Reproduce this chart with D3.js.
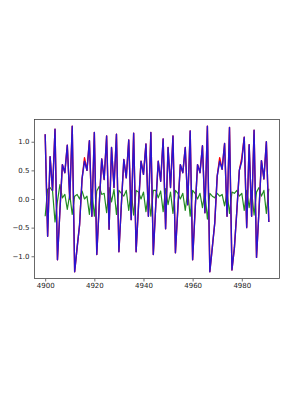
<!DOCTYPE html>
<html>
<head>
<meta charset="utf-8">
<script src="https://cdn.jsdelivr.net/npm/d3@7"></script>
<style>
  body { margin: 0; background: #fff; }
  svg { display: block; }
  .tick text { font-family: "DejaVu Sans", sans-serif; font-size: 7px; fill: #222; }
</style>
</head>
<body>
<div class="vis-lines"></div>
<script>
// first x value, each point is one step after the previous one
const xStart = 4900;

// actual series (red), mostly hidden under the prediction
const actual = [
  1.13, -0.65, 0.74, 0.15, 1.22, -1.06, -0.2, 0.6, 0.46, 0.94,
  0.0, 1.27, -1.27, -0.85, -0.45, 0.35, 0.72, 0.5, 1.02, -0.3,
  1.16, -0.97, -0.1, 0.7, 0.34, 1.1, -0.53, 0.9, 0.2, 1.13,
  -0.92, -0.1, 0.69, 0.37, 1.03, -0.36, 1.15, -0.92, -0.1, 0.66,
  0.43, 0.96, -0.3, 1.16, -0.97, -0.1, 0.66, 0.31, 1.05, -0.52,
  0.9, 0.2, 1.1, -0.94, -0.15, 0.6, 0.46, 0.9, -0.1, 1.19,
  -1.06, -0.2, 0.6, 0.46, 0.93, -0.24, 1.27, -1.27, -0.85, -0.42,
  0.4, 0.72, 0.52, 0.97, -0.3, 1.25, -1.24, -0.85, -0.2, 0.5,
  0.72, 1.08, -0.5, 0.95, -0.3, 1.2, -1.02, -0.2, 0.67, 0.35,
  1.0, -0.4
];

// predicted series (blue)
const predicted = [
  1.13, -0.65, 0.74, 0.15, 1.22, -1.06, -0.2, 0.6, 0.46, 0.94,
  0.0, 1.27, -1.27, -0.85, -0.45, 0.35, 0.66, 0.5, 1.02, -0.3,
  1.16, -0.97, -0.1, 0.7, 0.34, 1.1, -0.53, 0.9, 0.2, 1.13,
  -0.92, -0.1, 0.69, 0.37, 1.03, -0.36, 1.15, -0.92, -0.1, 0.66,
  0.43, 0.96, -0.3, 1.16, -0.97, -0.1, 0.66, 0.31, 1.05, -0.52,
  0.9, 0.2, 1.1, -0.94, -0.15, 0.6, 0.46, 0.9, -0.1, 1.19,
  -1.06, -0.2, 0.6, 0.46, 0.93, -0.24, 1.27, -1.27, -0.85, -0.42,
  0.4, 0.66, 0.52, 0.97, -0.3, 1.25, -1.24, -0.85, -0.2, 0.5,
  0.66, 1.08, -0.5, 0.95, -0.3, 1.2, -1.02, -0.2, 0.67, 0.35,
  1.0, -0.4
];

// third series (green), small values around zero
const residual = [
  -0.3, 0.17, 0.2, 0.14, -0.4, -0.04, 0.25, 0.02, 0.08, -0.18,
  0.08, -0.27, 0.05, 0.08, 0.0, 0.14, 0.0, 0.05, -0.27, 0.17,
  -0.3, 0.14, 0.22, 0.08, 0.1, -0.24, 0.2, -0.05, 0.17, -0.27,
  0.15, 0.1, 0.05, 0.15, -0.2, 0.15, -0.28, 0.15, 0.12, 0.0,
  0.12, -0.22, 0.1, -0.3, 0.15, 0.15, 0.02, 0.14, -0.22, 0.18,
  -0.1, 0.12, -0.25, 0.15, 0.1, 0.0, 0.1, -0.2, 0.14, -0.3,
  0.15, 0.1, 0.0, 0.1, -0.15, 0.12, -0.35, 0.1, 0.05, 0.02,
  0.1, 0.05, 0.08, -0.12, 0.12, -0.25, 0.12, 0.1, 0.15, 0.05,
  0.1, -0.2, 0.15, -0.15, 0.15, -0.28, 0.12, 0.2, 0.05, 0.15,
  -0.25, 0.18
];

const xTicks = [4900, 4920, 4940, 4960, 4980];
const yTicks = [-1.0, -0.5, 0.0, 0.5, 1.0];

const W = 291, H = 411;
const margin = { top: 119, right: 11, bottom: 132, left: 34 };

const svg = d3.select('.vis-lines').append('svg')
    .attr('width', W)
    .attr('height', H);

// matplotlib style 5% margins around the data
const xLast = xStart + actual.length - 1;
const xPad = (xLast - xStart) * 0.05;
const yMin = d3.min([actual, predicted, residual].flat());
const yMax = d3.max([actual, predicted, residual].flat());
const yPad = (yMax - yMin) * 0.05;

let x = d3.scaleLinear()
    .domain([xStart - xPad, xLast + xPad])
    .range([margin.left, W - margin.right]);
let y = d3.scaleLinear()
    .domain([yMin - yPad, yMax + yPad])
    .range([H - margin.bottom, margin.top]);

const line = d3.line()
    .x((d, i) => x(xStart + i))
    .y(d => y(d));

const plot = svg.append('g');
plot.append('path').datum(residual)
    .attr('fill', 'none').attr('stroke', '#228b22').attr('stroke-width', 1.2)
    .attr('stroke-linejoin', 'round')
    .attr('d', line);
plot.append('path').datum(actual)
    .attr('fill', 'none').attr('stroke', '#ff0000').attr('stroke-width', 1.4)
    .attr('stroke-linejoin', 'round')
    .attr('d', line);
plot.append('path').datum(predicted)
    .attr('fill', 'none').attr('stroke', '#2a14d0').attr('stroke-width', 1.4)
    .attr('stroke-linejoin', 'round')
    .attr('d', line);

// X axis
const fmtMinus = s => s.replace('-', '\u2212');
svg.append('g')
    .attr('transform', 'translate(0,' + (H - margin.bottom) + ')')
    .call(d3.axisBottom(x).tickValues(xTicks).tickSize(2.5).tickPadding(2).tickFormat(d3.format('d')))
    .call(g => g.select('.domain').remove())
    .call(g => g.selectAll('.tick line').attr('stroke', '#333').attr('stroke-width', 0.7));

// Y axis
svg.append('g')
    .attr('transform', 'translate(' + margin.left + ',0)')
    .call(d3.axisLeft(y).tickValues(yTicks).tickSize(2.5).tickPadding(2).tickFormat(d => fmtMinus(d3.format('.1f')(d))))
    .call(g => g.select('.domain').remove())
    .call(g => g.selectAll('.tick line').attr('stroke', '#333').attr('stroke-width', 0.7));

// frame
svg.append('rect')
    .attr('x', margin.left + 0.5)
    .attr('y', margin.top + 0.5)
    .attr('width', W - margin.left - margin.right - 1)
    .attr('height', H - margin.top - margin.bottom - 1)
    .attr('fill', 'none')
    .attr('stroke', '#444')
    .attr('stroke-width', 0.8);
</script>
</body>
</html>
